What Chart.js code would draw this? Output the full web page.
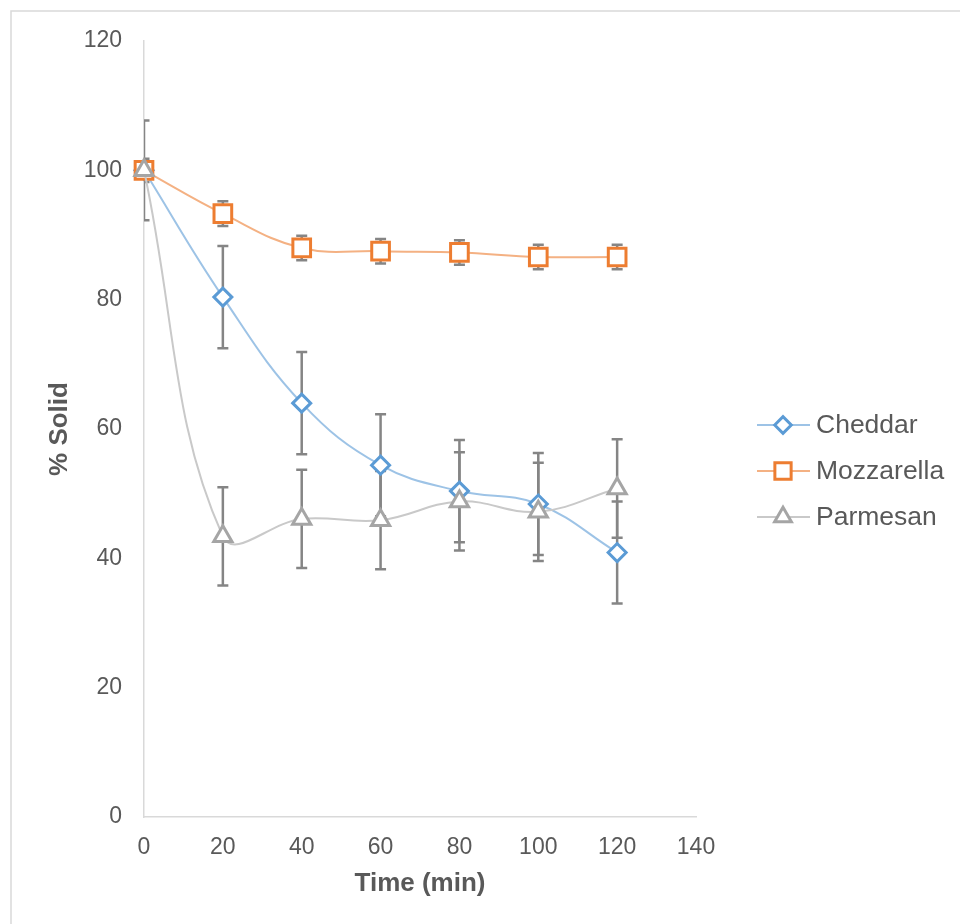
<!DOCTYPE html>
<html>
<head>
<meta charset="utf-8">
<script src="https://cdn.jsdelivr.net/npm/chart.js@4/dist/chart.umd.min.js"></script>
<style>
html,body{margin:0;padding:0;background:#fff;}
canvas{display:block;}
</style>
</head>
<body>
<canvas id="c" width="960" height="924"></canvas>
<script>
// ---- data ----
const times = [0, 20, 40, 60, 80, 100, 120];
const seriesNames = ['Cheddar', 'Mozzarella', 'Parmesan'];
const cheddar = [100, 80.4, 64.0, 54.4, 50.4, 48.4, 40.9];
const cheddarErr = [7.7, 7.9, 7.9, 7.9, 7.9, 7.9, 7.9];
const mozzarella = [100, 93.3, 88.0, 87.5, 87.3, 86.6, 86.6];
const mozzarellaErr = [1.8, 1.9, 1.9, 1.9, 1.9, 1.9, 1.9];
const parmesan = [100, 43.4, 46.1, 45.9, 48.8, 47.2, 50.8];
const parmesanErr = [0, 7.6, 7.6, 7.6, 7.6, 7.6, 7.6];
const xTicks = [0, 20, 40, 60, 80, 100, 120, 140];
const yTicks = [0, 20, 40, 60, 80, 100, 120];

const FONT = "'Liberation Sans', Arial, sans-serif";
const TXT = '#595959';

function pts(ys) { return times.map((t, i) => ({x: t, y: ys[i]})); }

const styles = [
  {line: '#9DC3E6', mark: '#5B9BD5', pointStyle: 'rectRot', r: 9},
  {line: '#F4B183', mark: '#ED7D31', pointStyle: 'rect', r: 12.5},
  {line: '#C9C9C9', mark: '#A5A5A5', pointStyle: 'triangle', r: 10.5}
];
const values = [cheddar, mozzarella, parmesan];
const errs = [cheddarErr, mozzarellaErr, parmesanErr];

const datasets = values.map((v, i) => ({
  label: seriesNames[i],
  data: pts(v),
  errors: errs[i],
  borderColor: styles[i].line,
  borderWidth: 2,
  tension: 0.4,
  pointStyle: styles[i].pointStyle,
  pointRadius: styles[i].r,
  pointHoverRadius: styles[i].r,
  pointBorderColor: styles[i].mark,
  pointBackgroundColor: '#ffffff',
  pointBorderWidth: 3,
  clip: false,
  order: 2 - i
}));

const frame = {
  id: 'frame',
  beforeDraw(chart) {
    const ctx = chart.ctx;
    ctx.save();
    ctx.fillStyle = '#fff';
    ctx.fillRect(0, 0, chart.width, chart.height);
    ctx.strokeStyle = '#D9D9D9';
    ctx.lineWidth = 1.5;
    ctx.strokeRect(11, 11, chart.width + 20, chart.height + 20);
    ctx.restore();
  }
};

const errorBars = {
  id: 'errorBars',
  beforeDatasetsDraw(chart) {
    const ctx = chart.ctx, a = chart.chartArea;
    const xs = chart.scales.x, ys = chart.scales.y;
    ctx.save();
    ctx.beginPath();
    ctx.rect(a.left, a.top, a.right - a.left, a.bottom - a.top);
    ctx.clip();
    ctx.strokeStyle = '#858585';
    ctx.lineWidth = 2.5;
    chart.data.datasets.forEach(ds => {
      ds.data.forEach((p, i) => {
        const e = ds.errors[i];
        if (!e) return;
        const px = xs.getPixelForValue(p.x);
        const y1 = ys.getPixelForValue(p.y + e);
        const y2 = ys.getPixelForValue(p.y - e);
        ctx.beginPath();
        ctx.moveTo(px, y1); ctx.lineTo(px, y2);
        ctx.moveTo(px - 5.5, y1); ctx.lineTo(px + 5.5, y1);
        ctx.moveTo(px - 5.5, y2); ctx.lineTo(px + 5.5, y2);
        ctx.stroke();
      });
    });
    ctx.restore();
  }
};

const legendPlugin = {
  id: 'customLegend',
  afterDraw(chart) {
    const ctx = chart.ctx;
    const x0 = 757, x1 = 810, mx = 783, tx = 816;
    const ys0 = [425, 471, 517];
    ctx.save();
    chart.data.datasets.forEach((ds, i) => {
      const y = ys0[i];
      ctx.strokeStyle = ds.borderColor;
      ctx.lineWidth = 2;
      ctx.beginPath(); ctx.moveTo(x0, y); ctx.lineTo(x1, y); ctx.stroke();
      ctx.fillStyle = '#fff';
      ctx.strokeStyle = ds.pointBorderColor;
      ctx.lineWidth = 3;
      Chart.helpers.drawPoint(ctx, {pointStyle: ds.pointStyle, radius: ds.pointRadius * 0.92, borderWidth: 3, rotation: 0}, mx, y);
      ctx.fillStyle = TXT;
      ctx.font = '26.5px ' + FONT;
      ctx.textAlign = 'left';
      ctx.textBaseline = 'middle';
      ctx.fillText(ds.label, tx, y + 1);
    });
    ctx.restore();
  }
};

new Chart(document.getElementById('c'), {
  type: 'line',
  data: {datasets},
  options: {
    responsive: false,
    animation: false,
    events: [],
    layout: {padding: {top: 41, right: 264, bottom: 0, left: 0}},
    plugins: {legend: {display: false}, tooltip: {enabled: false}},
    scales: {
      x: {
        type: 'linear',
        min: 0, max: 140,
        afterFit(s) { s.height = 107; },
        afterBuildTicks(s) { s.ticks = xTicks.map(v => ({value: v})); },
        grid: {display: false, drawTicks: false},
        border: {display: true, color: '#D9D9D9', width: 1.5},
        ticks: {color: TXT, font: {family: FONT, size: 23}, padding: 17, maxRotation: 0, autoSkip: false},
        title: {display: true, text: 'Time (min)', color: TXT, font: {family: FONT, size: 26, weight: 'bold'}, padding: {top: 0, bottom: 25}}
      },
      y: {
        type: 'linear',
        min: 0, max: 120,
        afterFit(s) { s.width = 144; },
        afterBuildTicks(s) { s.ticks = yTicks.map(v => ({value: v})); },
        grid: {display: false, drawTicks: false},
        border: {display: true, color: '#D9D9D9', width: 1.5},
        ticks: {color: TXT, font: {family: FONT, size: 23}, padding: 22, autoSkip: false},
        title: {display: true, text: '% Solid', color: TXT, font: {family: FONT, size: 26, weight: 'bold'}, padding: {top: 44, bottom: 0}}
      }
    }
  },
  plugins: [frame, errorBars, legendPlugin]
});
</script>
</body>
</html>
